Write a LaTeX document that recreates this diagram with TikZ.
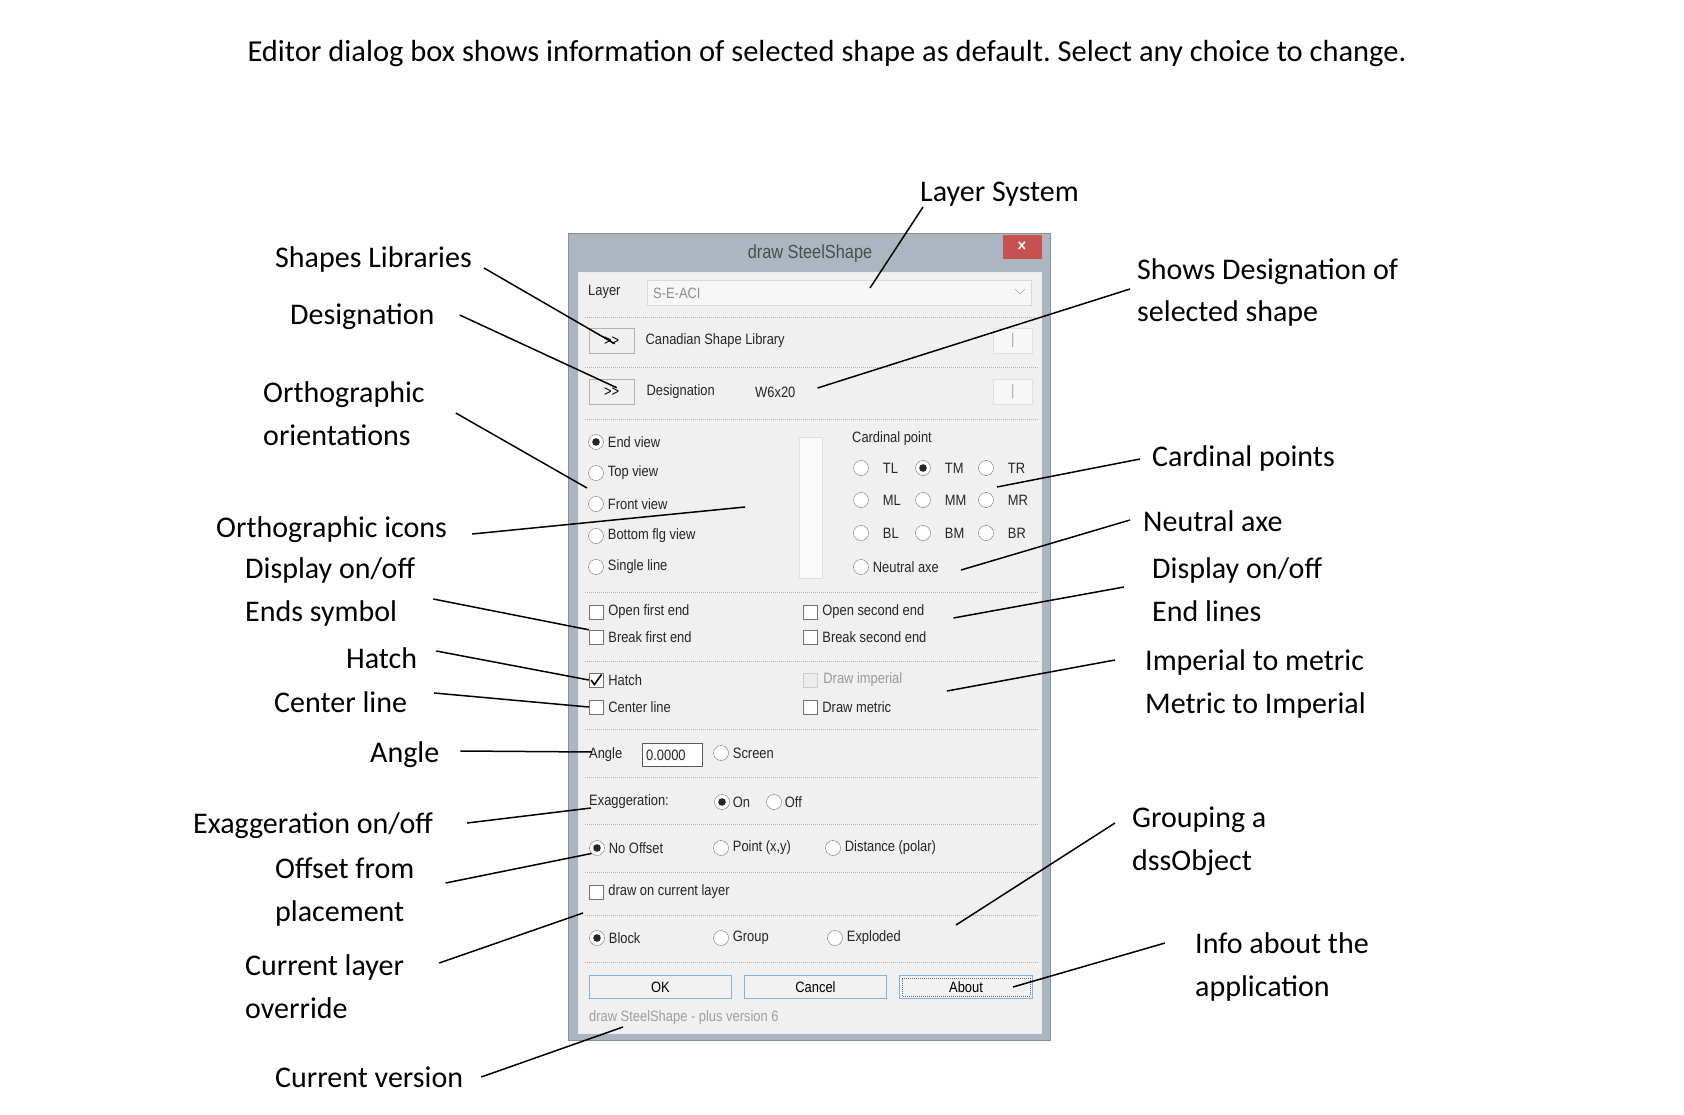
\documentclass[tikz,border=0pt]{standalone}
\usepackage{fontspec}
\setmainfont{Carlito}
\newfontfamily\uifont{Liberation Sans}[FakeStretch=0.86]
\usepackage{tikz}
\usetikzlibrary{positioning}
\frenchspacing

\definecolor{framegray}{RGB}{172,182,192}
\definecolor{frameedge}{RGB}{135,145,155}
\definecolor{panelgray}{RGB}{240,240,240}
\definecolor{closered}{RGB}{199,80,80}
\definecolor{btnblue}{RGB}{126,180,234}

\begin{document}
\begin{tikzpicture}[
    x=1pt, y=-1pt,
    callout/.style={anchor=base west, inner sep=0pt, align=left, font=\fontsize{30}{43}\selectfont},
    leader/.style={line width=1.5pt},
    uitext/.style={anchor=west, inner sep=0pt, font=\uifont\fontsize{15}{17}\selectfont, text=black!85},
    radio/.style={circle, draw=black!55, fill=white, minimum size=15pt, inner sep=0pt},
    chkbox/.style={rectangle, draw=black!55, fill=white, minimum size=14pt, inner sep=0pt},
    smallbtn/.style={rectangle, draw=black!30, fill=black!6, minimum width=45pt, minimum height=25pt, inner sep=0pt, anchor=north west, font=\uifont\fontsize{15}{17}\selectfont},
    pickbtn/.style={rectangle, draw=black!12, fill=black!3, minimum width=39pt, minimum height=25pt, inner sep=0pt, anchor=north west, text=black!35, font=\uifont\fontsize{15}{17}\selectfont},
    okbtn/.style={rectangle, draw=btnblue, line width=1pt, fill=black!5, minimum width=142pt, minimum height=23pt, inner sep=0pt, anchor=north west, font=\uifont\fontsize{15}{17}\selectfont},
    dotsep/.style={draw=black!30, dash pattern=on 1pt off 1pt, line width=0.8pt}
]
\useasboundingbox (0,0) rectangle (1684,1115);

\node[anchor=base, inner sep=0pt, font=\fontsize{30.5}{36}\selectfont] (title) at (827,62)
    {Editor dialog box shows information of selected shape as default. Select any choice to change.};

% dialog window
\draw[fill=framegray, draw=frameedge] (568,233) rectangle (1050,1040);
\draw[fill=panelgray, draw=black!8] (578,272) rectangle (1041,1033);
\node[font=\uifont\fontsize{19}{21}\selectfont, text=black!70] (dlgtitle) at (810,254) {draw SteelShape};
\node[rectangle, fill=closered, minimum width=39pt, minimum height=24pt, inner sep=0pt, text=white, font=\uifont\bfseries\fontsize{17}{17}\selectfont] (closebtn) at (1022,247) {×};
\foreach \y in {317,367,419,592,661,729,777,824,872,915,962}
    \draw[dotsep] (585,\y) -- (1038,\y);

% layer and shape rows
\node[uitext] (layerlbl) at (588,292) {Layer};
\node[rectangle, draw=black!15, fill=black!3, minimum width=384pt, minimum height=25pt, anchor=north west] (layerbox) at (647,280) {};
\node[uitext, text=black!45] (layerval) at (653,293) {S-E-ACI};
\draw[black!35] (1015,289) -- (1020,294) -- (1025,289);
\node[smallbtn] (libbtn) at (589,328) {>{}>};
\node[uitext, right=11pt of libbtn] (libtxt) {Canadian Shape Library};
\node[pickbtn] (libpick) at (993,328) {|};
\node[smallbtn] (desbtn) at (589,379) {>{}>};
\node[uitext, right=12pt of desbtn] (destxt) {Designation};
\node[uitext] (desval) at (755,392) {W6x20};
\node[pickbtn] (despick) at (993,379) {|};

% views and cardinal points
\foreach \n/\y/\t in {endv/442/End view, topv/473/Top view, frontv/504/Front view, botv/536/Bottom flg view, singlev/567/Single line}{
    \node[radio] (\n) at (596,\y) {};
    \node[uitext, right=4pt of \n] (\n-t) {\t};
}
\fill[black!85] (endv) circle (3.8pt);
\draw[black!12, fill=black!2] (799,437) rectangle (822,578);
\node[uitext] (cardlbl) at (852,439) {Cardinal point};
\foreach \r/\y in {T/468, M/500, B/533}
    \foreach \c/\x in {L/861, M/923, R/986}{
        \node[radio] (\r\c) at (\x,\y) {};
        \node[uitext, right=14pt of \r\c] (\r\c-t) {\r\c};
    }
\fill[black!85] (TM) circle (3.8pt);
\node[radio] (neutral) at (861,567) {};
\node[uitext, right=4pt of neutral] (neutral-t) {Neutral axe};

% check boxes
\foreach \n/\x/\y/\t in {open1/596/612/Open first end, break1/596/637/Break first end, open2/810/612/Open second end, break2/810/637/Break second end, hatch/596/680/Hatch, centre/596/707/Center line, metric/810/707/Draw metric, curlay/596/892/draw on current layer}{
    \node[chkbox] (\n) at (\x,\y) {};
    \node[uitext, right=5pt of \n] (\n-t) {\t};
}
\node[chkbox, draw=black!20, fill=black!7] (imperial) at (810,680) {};
\node[uitext, text=black!40, right=6pt of imperial] (imperial-t) {Draw imperial};
\draw[line width=1.6pt] (hatch.center) ++(-5,0) -- ++(3.5,4.5) -- ++(7,-10);

% angle and exaggeration
\node[uitext] (anglelbl) at (589,755) {Angle};
\node[rectangle, draw=black!65, fill=white, minimum width=60pt, minimum height=23pt, anchor=north west] (anglebox) at (642,743) {};
\node[uitext] (angleval) at (646,755) {0.0000};
\node[radio] (screen) at (721,753) {};
\node[uitext, right=4pt of screen] (screen-t) {Screen};
\node[uitext] (exaglbl) at (589,802) {Exaggeration:};
\node[radio] (exon) at (722,802) {};
\node[uitext, right=3pt of exon] (exon-t) {On};
\node[radio] (exoff) at (774,802) {};
\node[uitext, right=3pt of exoff] (exoff-t) {Off};
\fill[black!85] (exon) circle (3.8pt);

% offset and grouping
\foreach \n/\x/\y/\t in {nooff/597/848/No Offset, polar/833/848/{Distance (polar)}, block/597/938/Block, group/721/938/Group, exploded/835/938/Exploded}{
    \node[radio] (\n) at (\x,\y) {};
    \node[uitext, right=4pt of \n] (\n-t) {\t};
}
\node[radio] (pointxy) at (721,848) {};
\node[uitext, right=4pt of pointxy] (pointxy-t) {Point (x,y)};
\fill[black!85] (nooff) circle (3.8pt);
\fill[black!85] (block) circle (3.8pt);

% buttons
\node[okbtn] (okbtn) at (589,975) {OK};
\node[okbtn] (cancelbtn) at (744,975) {Cancel};
\node[okbtn, minimum width=133pt] (aboutbtn) at (899,975) {About};
\draw[black!60, dash pattern=on 1pt off 1pt] ([shift={(3,-3)}]aboutbtn.south west) rectangle ([shift={(-3,3)}]aboutbtn.north east);
\node[uitext, text=black!38] (version) at (589,1018) {draw SteelShape - plus version 6};

% callouts
\node[callout] (laysys) at (920,202) {Layer System};
\node[callout] (libs) at (275,268) {Shapes Libraries};
\node[callout] (desig) at (290,325) {Designation};
\node[callout] (ortho) at (263,445) {Orthographic\\orientations};
\node[callout] (icons) at (216,537) {Orthographic icons};
\node[callout] (endsym) at (245,621) {Display on/off\\Ends symbol};
\node[callout] (hatchc) at (346,668) {Hatch};
\node[callout] (centrec) at (274,712) {Center line};
\node[callout] (anglec) at (370,762) {Angle};
\node[callout] (exagc) at (193,833) {Exaggeration on/off};
\node[callout] (offsetc) at (275,921) {Offset from\\placement};
\node[callout] (curlayc) at (245,1018) {Current layer\\override};
\node[callout] (versionc) at (275,1087) {Current version};
\node[callout] (showdes) at (1137,322) {Shows Designation of\\selected shape};
\node[callout] (cardc) at (1152,466) {Cardinal points};
\node[callout] (neutralc) at (1143,531) {Neutral axe};
\node[callout] (endlines) at (1152,621) {Display on/off\\End lines};
\node[callout] (unitsc) at (1145,713) {Imperial to metric\\Metric to Imperial};
\node[callout] (groupc) at (1132,870) {Grouping a\\dssObject};
\node[callout] (infoc) at (1195,996) {Info about the\\application};

\coordinate (layerpt) at (870,288);
\coordinate (orthopt) at (587,488);
\coordinate (iconpt) at (745,507);
\coordinate (curlaypt) at (583,913);
\coordinate (cardpt) at (997,487);
\coordinate (unitpt) at (947,691);
\coordinate (grouppt) at (956,925);

\draw[leader] ([shift={(3,5)}]laysys.base west) -- (layerpt);
\draw[leader] ([shift={(12,0)}]libs.base east) -- ([shift={(3,3)}]libbtn.center);
\draw[leader] ([shift={(25,-10)}]desig.base east) -- ([shift={(5,-4)}]desbtn.center);
\draw[leader] ([shift={(31,-32)}]ortho.base east) -- (orthopt);
\draw[leader] ([shift={(25,-3)}]icons.base east) -- (iconpt);
\draw[leader] ([shift={(18,-22)}]endsym.base east) -- (break1.north west);
\draw[leader] ([shift={(19,-17)}]hatchc.base east) -- (hatch.west);
\draw[leader] ([shift={(27,-19)}]centrec.base east) -- (centre.west);
\draw[leader] ([shift={(21,-11)}]anglec.base east) -- ([shift={(3,-3)}]anglelbl.west);
\draw[leader] ([shift={(34,-10)}]exagc.base east) -- ([shift={(2,6)}]exaglbl.west);
\draw[leader] ([shift={(31,-38)}]offsetc.base east) -- (nooff.south west);
\draw[leader] ([shift={(35,-55)}]curlayc.base east) -- (curlaypt);
\draw[leader] ([shift={(18,-10)}]versionc.base east) -- ([shift={(34,9)}]version.west);
\draw[leader] ([shift={(-7,-33)}]showdes.base west) -- ([shift={(22,-4)}]desval.east);
\draw[leader] ([shift={(-12,-7)}]cardc.base west) -- (cardpt);
\draw[leader] ([shift={(-13,-11)}]neutralc.base west) -- ([shift={(22,3)}]neutral-t.east);
\draw[leader] ([shift={(-28,-34)}]endlines.base west) -- ([shift={(29,6)}]open2-t.east);
\draw[leader] ([shift={(-30,-53)}]unitsc.base west) -- (unitpt);
\draw[leader] ([shift={(-17,-47)}]groupc.base west) -- (grouppt);
\draw[leader] ([shift={(-30,-53)}]infoc.base west) -- ([shift={(47,0)}]aboutbtn.center);
\end{tikzpicture}
\end{document}
